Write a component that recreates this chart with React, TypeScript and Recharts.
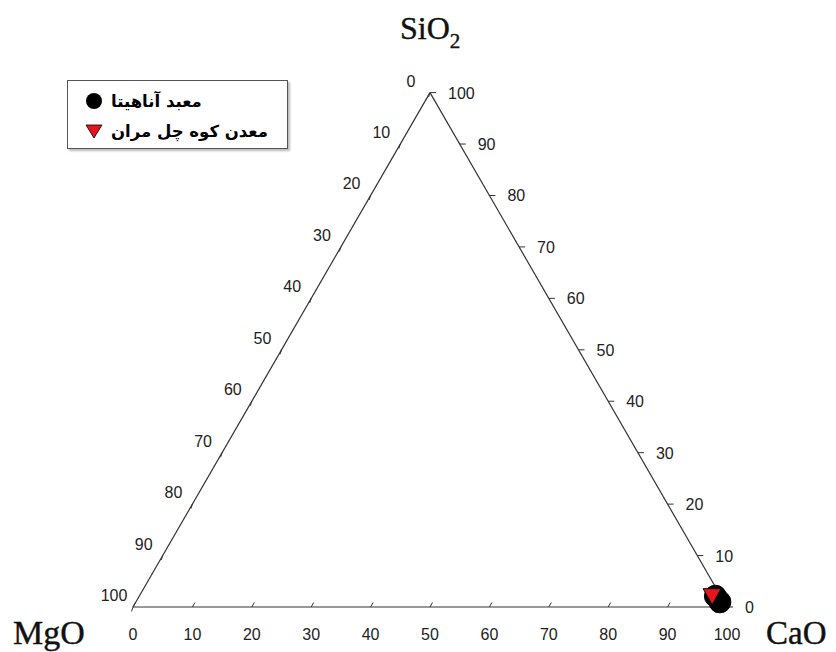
import React from 'react';
import { ScatterChart, Scatter, XAxis, YAxis, ReferenceLine, Legend, Customized } from 'recharts';

// ternary composition (%)
const anahitaCaO = [97.0, 98.3];
const anahitaSiO2 = [2.1, 1.0];
const anahitaMgO = [0.9, 0.7];

const chelMoranCaO = [96.4];
const chelMoranSiO2 = [2.2];
const chelMoranMgO = [1.4];

const seriesNames = ['معبد آناهیتا', 'معدن کوه چل مران'];
const tickValues = [0, 10, 20, 30, 40, 50, 60, 70, 80, 90, 100];

const H = Math.sqrt(3) / 2 * 100;

// ternary -> cartesian (x along MgO-CaO, y toward SiO2)
const toXY = (cao: number[], sio2: number[], mgo: number[]) =>
  cao.map((c, i) => {
    const total = c + sio2[i] + mgo[i];
    const s = sio2[i] / total * 100;
    const ca = c / total * 100;
    return { x: ca + s / 2, y: s * Math.sqrt(3) / 2 };
  });

const anahitaData = toXY(anahitaCaO, anahitaSiO2, anahitaMgO);
const chelMoranData = toXY(chelMoranCaO, chelMoranSiO2, chelMoranMgO);

const bottomTicks = tickValues.map((t) => ({ x: t, y: 0, label: t }));
const leftTicks = tickValues.map((t) => ({ x: 50 - t / 2, y: H * (1 - t / 100), label: t }));
const rightTicks = tickValues.map((t) => ({ x: 100 - t / 2, y: t * Math.sqrt(3) / 2, label: t }));

const tickFont = { fontFamily: 'Liberation Sans, Arial, sans-serif', fontSize: 16, fill: '#222' };

const BottomTick = (p: any) => (
  <g>
    <line x1={p.cx} y1={p.cy} x2={p.cx + 2.5} y2={p.cy - 4.5} stroke="#333" />
    <text x={p.cx} y={p.cy + 33} textAnchor="middle" {...tickFont}>{p.payload.label}</text>
  </g>
);
const LeftTick = (p: any) => (
  <g>
    <line x1={p.cx} y1={p.cy} x2={p.cx - 1.5} y2={p.cy + 4.5} stroke="#333" />
    <text x={p.cx - 19} y={p.cy - 6} textAnchor="middle" {...tickFont}>{p.payload.label}</text>
  </g>
);
const RightTick = (p: any) => (
  <g>
    <line x1={p.cx} y1={p.cy} x2={p.cx + 6} y2={p.cy} stroke="#333" />
    <text x={p.cx + 18} y={p.cy + 6} textAnchor="start" {...tickFont}>{p.payload.label}</text>
  </g>
);

const CircleMark = (p: any) => (
  <circle cx={p.cx} cy={p.cy} r={11} fill="#000" stroke="#000" />
);
const TriMark = (p: any) => (
  <path
    d={`M${p.cx - 9},${p.cy - 7} L${p.cx + 9},${p.cy - 7} L${p.cx},${p.cy + 9} Z`}
    fill="#e8141c"
    stroke="#000"
    strokeWidth={1}
  />
);

const LegendBox = () => (
  <div
    style={{
      width: 219,
      height: 62,
      paddingTop: 5,
      border: '1.5px solid #555',
      boxShadow: '2px 2px 2px #bbb',
      background: '#fff',
      fontFamily: 'DejaVu Sans, sans-serif',
      fontWeight: 'bold',
      fontSize: 16.5,
    }}
  >
    <div style={{ display: 'flex', alignItems: 'center', height: 30 }}>
      <svg width={18} height={18} style={{ marginLeft: 17, marginRight: 8 }}>
        <circle cx={9} cy={9} r={8} fill="#000" />
      </svg>
      <span dir="rtl">{seriesNames[0]}</span>
    </div>
    <div style={{ display: 'flex', alignItems: 'center', height: 30 }}>
      <svg width={18} height={18} style={{ marginLeft: 17, marginRight: 8 }}>
        <path d="M1,3 L17,3 L9,16 Z" fill="#e8141c" stroke="#000" strokeWidth={0.8} />
      </svg>
      <span dir="rtl">{seriesNames[1]}</span>
    </div>
  </div>
);

const Titles = () => (
  <g fontFamily="Liberation Serif, Times New Roman, serif" fill="#111" stroke="#111" strokeWidth={0.4}>
    <text x={392} y={31} fontSize={32}>
      SiO<tspan dy={9} fontSize={21}>2</tspan>
    </text>
    <text x={5} y={636} fontSize={34}>MgO</text>
    <text x={758} y={636} fontSize={33}>CaO</text>
  </g>
);

export default function App() {
  return (
    <ScatterChart
      width={828}
      height={644}
      margin={{ top: 84.6, right: 109, bottom: 45, left: 125 }}
    >
      <XAxis type="number" dataKey="x" domain={[0, 100]} hide />
      <YAxis type="number" dataKey="y" domain={[0, H]} hide />
      <ReferenceLine segment={[{ x: 0, y: 0 }, { x: 100, y: 0 }]} stroke="#333" strokeWidth={1.2} ifOverflow="visible" />
      <ReferenceLine segment={[{ x: 0, y: 0 }, { x: 50, y: H }]} stroke="#333" strokeWidth={1.2} ifOverflow="visible" />
      <ReferenceLine segment={[{ x: 100, y: 0 }, { x: 50, y: H }]} stroke="#333" strokeWidth={1.2} ifOverflow="visible" />
      <Scatter data={bottomTicks} shape={BottomTick} isAnimationActive={false} legendType="none" />
      <Scatter data={leftTicks} shape={LeftTick} isAnimationActive={false} legendType="none" />
      <Scatter data={rightTicks} shape={RightTick} isAnimationActive={false} legendType="none" />
      <Scatter name={seriesNames[0]} data={anahitaData} shape={CircleMark} isAnimationActive={false} />
      <Scatter name={seriesNames[1]} data={chelMoranData} shape={TriMark} isAnimationActive={false} />
      <Legend
        layout="vertical"
        align="center"
        verticalAlign="middle"
        content={LegendBox}
        wrapperStyle={{ left: 59, top: 72, width: 'auto' }}
      />
      <Customized component={Titles} />
    </ScatterChart>
  );
}
